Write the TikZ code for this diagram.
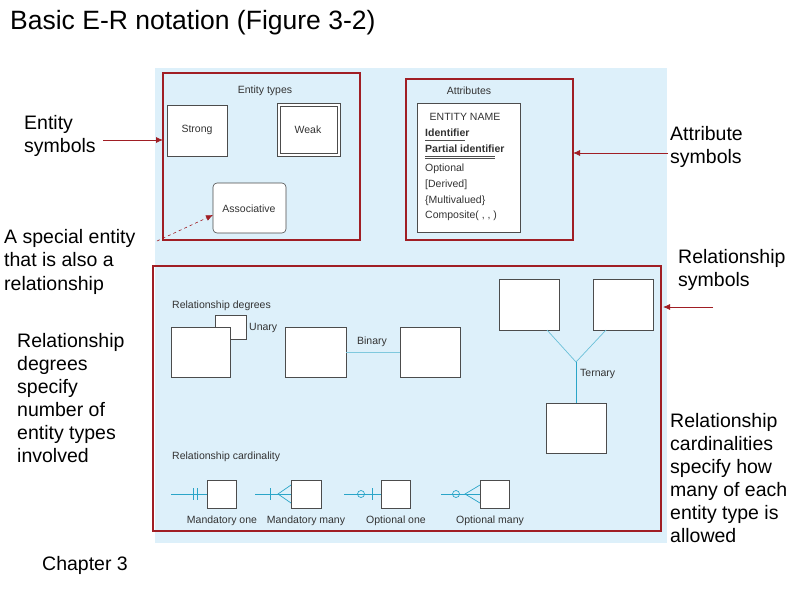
\documentclass[tikz,border=0pt]{standalone}
\usepackage{fontspec}
\setmainfont{Liberation Sans}
\usetikzlibrary{arrows.meta}
\definecolor{bgb}{HTML}{DDF0FA}
\definecolor{dred}{HTML}{A01E24}
\definecolor{cy}{HTML}{2AA5C8}
\begin{document}
\begin{tikzpicture}[x=1pt,y=-1pt,
  big/.style={font=\fontsize{19.5}{23.5}\selectfont,align=left,inner sep=0pt},
  sm/.style={font=\fontsize{10.5}{12}\selectfont,inner sep=0pt,text=black!80},
  redbox/.style={draw=dred,line width=1.6pt},
  ent/.style={draw=black!70,fill=white,line width=0.6pt},
  rl/.style={draw=cy,line width=0.7pt},
  arr/.style={draw=dred,line width=0.8pt,-{Latex[length=7pt,width=6pt]}}]
\useasboundingbox (0,0) rectangle (800,600);
\fill[white] (0,0) rectangle (800,600);
\fill[bgb] (155,68) rectangle (667,543);
\node[anchor=west,font=\fontsize{26.5}{30}\selectfont,inner sep=0pt] (title) at (10,23) {Basic E-R notation (Figure 3-2)};
% Entity types
\draw[redbox] (163,73) rectangle (360,240);
\node[sm] (et) at (265,91) {Entity types};
\draw[ent] (167,105) rectangle (227,156);
\node[sm] (strong) at (197,130) {Strong};
\draw[ent] (277,103) rectangle (340,156);
\draw[ent] (280,106) rectangle (337,153);
\node[sm] (weak) at (308,130) {Weak};
\draw[ent,rounded corners=4pt] (213,183) rectangle (286,233);
\node[sm] (assoc) at (249,209) {Associative};
\coordinate (assocw) at (213,215);
% Attributes
\draw[redbox] (406,79) rectangle (573,240);
\node[sm] (at) at (469,91) {Attributes};
\draw[ent] (417,103) rectangle (520,232);
\node[sm] (en) at (465,117) {ENTITY NAME};
\node[sm,anchor=west,font=\fontsize{10.5}{12}\selectfont\bfseries] (id) at (425,133) {Identifier};
\draw[black!70] (425,140) -- (465,140);
\node[sm,anchor=west,font=\fontsize{10.5}{12}\selectfont\bfseries] (pid) at (425,149) {Partial identifier};
\draw[black!70] (425,156) -- (495,156);
\draw[black!70] (425,158.5) -- (495,158.5);
\node[sm,anchor=west] (o1) at (425,169) {Optional};
\node[sm,anchor=west] (o2) at (425,185) {[Derived]};
\node[sm,anchor=west] (o3) at (425,201) {\{Multivalued\}};
\node[sm,anchor=west] (o4) at (425,216) {Composite( , , )};
% Relationships
\draw[redbox] (153,266) rectangle (661,531);
\node[sm,anchor=west] (rd) at (172,306) {Relationship degrees};
\draw[ent] (215,315) rectangle (246,339);
\draw[ent] (171,327) rectangle (230,377);
\node[sm,anchor=west] (un) at (249,328) {Unary};
\node[ent,minimum width=61pt,minimum height=50pt,inner sep=0pt] (b1) at (315.5,352) {};
\node[ent,minimum width=60pt,minimum height=50pt,inner sep=0pt] (b2) at (430,352) {};
\draw[cy!60,line width=0.6pt] (b1) -- (b2);
\node[sm] (bin) at (372,342) {Binary};
\node[ent,minimum width=60pt,minimum height=51pt,inner sep=0pt] (t1) at (529,304.5) {};
\node[ent,minimum width=60pt,minimum height=51pt,inner sep=0pt] (t2) at (623,304.5) {};
\node[ent,minimum width=60pt,minimum height=50pt,inner sep=0pt] (t3) at (576,428) {};
\coordinate (j) at (576,362);
\draw[rl,cy!70] (547,330) -- (j) -- (606,330);
\draw[rl] (j) -- (t3.north);
\node[sm,anchor=west] (ter) at (580,374) {Ternary};
\node[sm,anchor=west] (rc) at (172,457) {Relationship cardinality};
% cardinality
\node[ent,minimum width=29pt,minimum height=28pt,inner sep=0pt] (c1) at (221.5,494) {};
\node[ent,minimum width=30pt,minimum height=28pt,inner sep=0pt] (c2) at (306,494) {};
\node[ent,minimum width=29pt,minimum height=28pt,inner sep=0pt] (c3) at (395.5,494) {};
\node[ent,minimum width=29pt,minimum height=28pt,inner sep=0pt] (c4) at (494.5,494) {};
\coordinate (s1) at (171,494); \coordinate (s2) at (255,494);
\coordinate (s3) at (344,494); \coordinate (s4) at (441,494);
\draw[rl] (s1) -- (c1.west);
\draw[rl] (193,488) -- (193,500) (197,488) -- (197,500);
\draw[rl] (s2) -- (c2.west);
\draw[rl] (270,488) -- (270,500);
\draw[rl] (291,485) -- (278,494) -- (291,503);
\draw[rl] (s3) -- (c3.west);
\draw[rl] (361,494) circle (3.5pt);
\draw[rl] (372,488) -- (372,500);
\draw[rl] (s4) -- (c4.west);
\draw[rl] (456,494) circle (3.5pt);
\draw[rl] (480,485) -- (465,494) -- (480,503);
\node[sm] (l1) at (222,521) {Mandatory one};
\node[sm] (l2) at (306,521) {Mandatory many};
\node[sm] (l3) at (396,521) {Optional one};
\node[sm] (l4) at (490,521) {Optional many};
% outer labels
\node[big,anchor=north west] (es) at (24,115) {Entity\\symbols};
\coordinate (esa) at (103,140);
\draw[arr] (esa) -- (163,140);
\node[big,anchor=north west] (as) at (670,126) {Attribute\\symbols};
\coordinate (asa) at (668,153);
\draw[arr] (asa) -- (573,153);
\node[big,anchor=north west] (sp) at (4,229) {A special entity\\that is also a\\relationship};
\coordinate (spa) at (157,241);
\draw[arr,dashed,line width=0.6pt] (spa) -- (assocw);
\node[big,anchor=north west] (rs) at (678,249) {Relationship\\symbols};
\coordinate (rsa) at (713,307);
\draw[arr] (rsa) -- (663,307);
\node[big,anchor=north west,font=\fontsize{19.5}{23}\selectfont] (rds) at (17,333) {Relationship\\degrees\\specify\\number of\\entity types\\involved};
\node[big,anchor=north west,font=\fontsize{19.5}{23}\selectfont] (rcs) at (670,413) {Relationship\\cardinalities\\specify how\\many of each\\entity type is\\allowed};
\node[big,anchor=west] (ch) at (42,565) {Chapter 3};
\end{tikzpicture}
\end{document}
